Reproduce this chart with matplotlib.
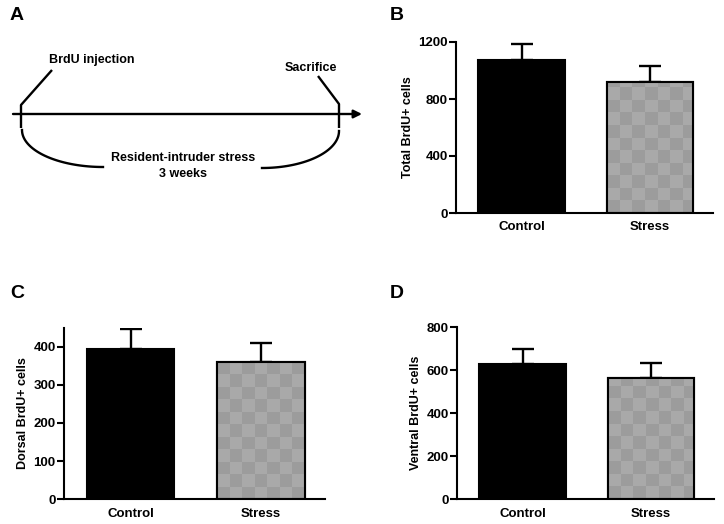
import numpy as np
import matplotlib
matplotlib.use("Agg")
import matplotlib.pyplot as plt
from matplotlib.patches import FancyArrowPatch

plt.rcParams['font.family'] = ['Liberation Sans', 'DejaVu Sans']
plt.rcParams['font.weight'] = 'bold'

groups = ["Control", "Stress"]
total_mean = [1074, 921]
total_err = [114, 110]
dorsal_mean = [393, 359]
dorsal_err = [53, 51]
ventral_mean = [631, 564]
ventral_err = [68, 68]

total_ticks = [0, 400, 800, 1200]
dorsal_ticks = [0, 100, 200, 300, 400]
ventral_ticks = [0, 200, 400, 600, 800]

W, H = 724, 524
fig = plt.figure(figsize=(W / 100, H / 100), dpi=100)


def px_axes(left, right, top, bottom):
    return fig.add_axes([left / W, 1 - bottom / H, (right - left) / W, (bottom - top) / H])


def bar_panel(ax, means, errs, ticks, ylim, ylabel):
    x = np.arange(len(groups))
    bars = ax.bar(x, means, width=0.67, color=['black', '#a8a8a8'],
                  edgecolor='black', linewidth=1.5, zorder=2)
    ax.errorbar(x, means, yerr=[np.zeros(len(errs)), errs], fmt='none',
                ecolor='black', elinewidth=1.7, capsize=8, capthick=1.7, zorder=1)
    ax.set_xlim(-0.51, 1.49)
    ax.set_ylim(*ylim)
    ax.set_yticks(ticks)
    ax.set_xticks(x)
    ax.set_xticklabels(groups, fontsize=9.5, fontweight='bold')
    ax.tick_params(axis='x', length=0, pad=6)
    ax.tick_params(axis='y', length=5, width=1.5, pad=1, labelsize=9.5)
    for lab in ax.get_yticklabels():
        lab.set_fontweight('bold')
    ax.spines['top'].set_visible(False)
    ax.spines['right'].set_visible(False)
    ax.spines['left'].set_linewidth(1.5)
    ax.spines['bottom'].set_linewidth(1.5)
    ax.set_ylabel(ylabel, fontsize=9, fontweight='bold', labelpad=3)
    # checker texture for stress bar
    fig.canvas.draw()
    p = bars[1]
    x0, y0 = p.get_x(), p.get_y()
    x1, y1 = x0 + p.get_width(), y0 + p.get_height()
    (px0, py0), (px1, py1) = ax.transData.transform([(x0, y0), (x1, y1)])
    cell = 12.5
    cx = abs(px1 - px0) / cell
    cy = abs(py1 - py0) / cell
    nx = int(np.ceil(cx))
    ny = int(np.ceil(cy))
    ii, jj = np.meshgrid(np.arange(ny), np.arange(nx), indexing='ij')
    checker = ((ii + jj) % 2).astype(float)
    img = np.where(checker[..., None] > 0, np.array([0.665, 0.665, 0.665]),
                   np.array([0.615, 0.615, 0.615]))
    x1e = x0 + (x1 - x0) * nx / cx
    y1e = y0 + (y1 - y0) * ny / cy
    im = ax.imshow(img, extent=(x0, x1e, y0, y1e), origin='lower',
                   interpolation='nearest', aspect='auto', zorder=2.1)
    im.set_clip_path(p)
    ax.bar([x[1]], [means[1]], width=0.67, color='none', edgecolor='black',
           linewidth=1.5, zorder=2.2)
    ax.set_xlim(-0.51, 1.49)
    ax.set_ylim(*ylim)


axB = px_axes(456, 713, 42, 213)
bar_panel(axB, total_mean, total_err, total_ticks, (0, 1200), "Total BrdU+ cells")
axC = px_axes(64, 325, 327.6, 499.3)
bar_panel(axC, dorsal_mean, dorsal_err, dorsal_ticks, (0, 450), "Dorsal BrdU+ cells")
axD = px_axes(457, 714, 327.3, 499.3)
bar_panel(axD, ventral_mean, ventral_err, ventral_ticks, (0, 800), "Ventral BrdU+ cells")

# Panel A timeline diagram (pixel coordinates within left-top region)
axA = fig.add_axes([0, 0.5, 0.5, 0.5])
axA.set_xlim(0, 362)
axA.set_ylim(262, 0)
axA.axis('off')
lw = 1.7
axA.add_patch(FancyArrowPatch((13, 114), (362, 114), arrowstyle='-|>', mutation_scale=12,
                              color='black', linewidth=lw, shrinkA=0, shrinkB=0))
axA.plot([52, 21, 21], [70, 105, 128], color='black', lw=lw, solid_capstyle='butt')
axA.plot([318, 339, 339], [76, 104, 128], color='black', lw=lw, solid_capstyle='butt')
t = np.linspace(0, np.pi / 2, 60)
axA.plot(103 - 81 * np.cos(t), 130 + 37 * np.sin(t), color='black', lw=lw)
axA.plot(262 + 77 * np.cos(t), 131 + 37 * np.sin(t), color='black', lw=lw)
axA.text(92, 60, "BrdU injection", ha='center', va='center', fontsize=9, fontweight='bold')
axA.text(311, 68, "Sacrifice", ha='center', va='center', fontsize=9, fontweight='bold')
axA.text(183, 158, "Resident-intruder stress", ha='center', va='center', fontsize=9, fontweight='bold')
axA.text(183, 174, "3 weeks", ha='center', va='center', fontsize=9, fontweight='bold')

for lbl, (lx, ly) in zip("ABCD", [(17, 15), (397, 15), (17, 293), (397, 293)]):
    fig.text(lx / W, 1 - ly / H, lbl, fontsize=14, fontweight='bold', ha='center', va='center')

fig.savefig("out.png", dpi=100)
